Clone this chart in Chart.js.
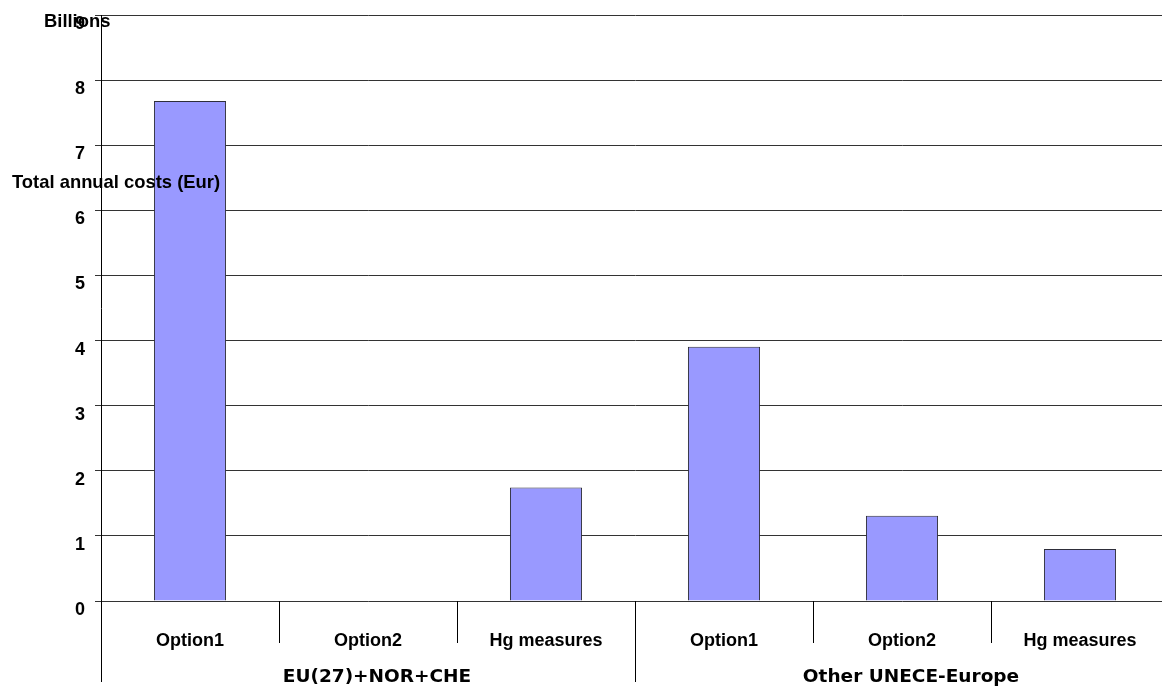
<!DOCTYPE html>
<html>
<head>
<meta charset="utf-8">
<script src="https://cdn.jsdelivr.net/npm/chart.js@4/dist/chart.umd.min.js"></script>
<style>
  html, body { margin: 0; padding: 0; background: #ffffff; }
  /* the plot runs slightly past the right edge of the frame */
  #wrap { width: 1162px; height: 687px; position: relative; overflow: hidden; }
  #c { display: block; }
</style>
</head>
<body>
<div id="wrap"><canvas id="c" width="1169" height="687"></canvas></div>
<script>
// Cost options per region
const categories = ['Option1', 'Option2', 'Hg measures', 'Option1', 'Option2', 'Hg measures'];
const groups = ['EU(27)+NOR+CHE', 'Other UNECE-Europe'];
const groupSize = 3;
const totalCosts = [7.68, 0, 1.745, 3.905, 1.31, 0.80]; // billions of Eur
const yTicks = [0, 1, 2, 3, 4, 5, 6, 7, 8, 9];

const FONT = '"Liberation Sans", Arial, sans-serif';
const GROUP_FONT = '"DejaVu Sans", Verdana, sans-serif';

// Draws the two-level category axis, the axis titles on top of the bars
const annotate = {
  id: 'annotate',
  afterDatasetsDraw(chart) {
    const ctx = chart.ctx;
    const x = chart.scales.x;
    const area = chart.chartArea;
    const n = categories.length;
    const step = x.getPixelForValue(1) - x.getPixelForValue(0);
    const edge = i => x.getPixelForValue(i) - step / 2;

    ctx.save();
    ctx.strokeStyle = '#000000';
    ctx.lineWidth = 1;
    // separators between options
    for (let i = 1; i < n; i++) {
      const px = Math.round(edge(i)) + 0.5;
      const isGroup = i % groupSize === 0;
      ctx.beginPath();
      ctx.moveTo(px, area.bottom);
      ctx.lineTo(px, area.bottom + (isGroup ? 81 : 42));
      ctx.stroke();
    }
    // left edge continues the value axis downward
    ctx.beginPath();
    ctx.moveTo(Math.round(edge(0)) + 0.5, area.bottom);
    ctx.lineTo(Math.round(edge(0)) + 0.5, area.bottom + 81);
    ctx.stroke();

    ctx.fillStyle = '#000000';
    ctx.font = 'bold 18px ' + FONT;
    ctx.textAlign = 'center';
    ctx.textBaseline = 'middle';
    categories.forEach((c, i) => {
      ctx.fillText(c, x.getPixelForValue(i), area.bottom + 40);
    });
    ctx.font = 'bold 18.5px ' + GROUP_FONT;
    groups.forEach((g, gi) => {
      const left = edge(gi * groupSize);
      const right = edge(gi * groupSize) + step * groupSize;
      ctx.fillText(g, (left + right) / 2 + 9, area.bottom + 76);
    });

    // axis titles
    ctx.font = 'bold 18.4px ' + FONT;
    ctx.textAlign = 'left';
    ctx.fillText('Billions', 44, 22);
    ctx.fillText('Total annual costs (Eur)', 12, 183);
    ctx.restore();
  }
};

new Chart(document.getElementById('c'), {
  type: 'bar',
  data: {
    labels: categories,
    datasets: [{
      data: totalCosts,
      backgroundColor: '#9999ff',
      borderColor: '#2e2e3a',
      borderWidth: 1,
      categoryPercentage: 1,
      barPercentage: 0.405
    }]
  },
  options: {
    responsive: false,
    animation: false,
    layout: { padding: { top: 15, right: 0, bottom: 0, left: 0 } },
    plugins: { legend: { display: false }, tooltip: { enabled: false } },
    scales: {
      x: {
        ticks: { display: false },
        grid: { display: false },
        border: { display: false },
        afterFit(scale) { scale.height = 86; }
      },
      y: {
        min: 0,
        max: 9,
        afterBuildTicks(scale) { scale.ticks = yTicks.map(v => ({ value: v })); },
        ticks: {
          color: '#000000',
          font: { family: FONT, size: 18, weight: 'bold' },
          padding: 10,
          labelOffset: 9
        },
        grid: {
          color: '#333333',
          lineWidth: 1,
          tickLength: 6,
          tickColor: '#333333'
        },
        border: { display: true, color: '#000000', width: 1 },
        afterFit(scale) {
          scale.width = 101;
          scale.paddingTop = 0;
          scale.paddingBottom = 0;
        }
      }
    }
  },
  plugins: [annotate]
});
</script>
</body>
</html>
